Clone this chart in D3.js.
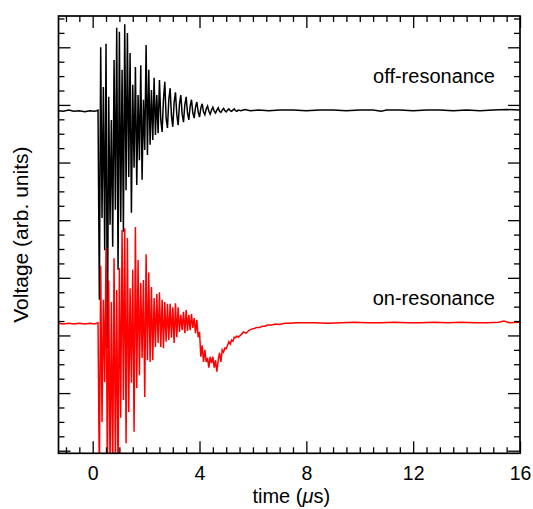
<!DOCTYPE html>
<html><head><meta charset="utf-8">
<script src="https://cdn.jsdelivr.net/npm/d3@7"></script>
<style>body{margin:0;background:#fff}svg{display:block}</style>
</head><body><svg id="c" width="533" height="509"></svg>
<script>
// ---------------- DATA ----------------
const xTickMajor = [0, 4, 8, 12, 16];
const seriesNames = ["off-resonance", "on-resonance"];
const xLabel = "time (";
const yLabel = "Voltage (arb. units)";

// densely sampled ringing region (uniform sampling)
const ringStart = 0.20, ringStep = 0.05;

// off-resonance (black)
const offPreT = [-1.28, -1.1, -0.9, -0.7, -0.5, -0.3, -0.1, 0.05, 0.15];
const offPreV = [5.90, 5.89, 5.91, 5.89, 5.90, 5.88, 5.90, 5.89, 5.90];
const offRing = [
 5.91, 2.62, 7.00, 4.04, 6.31, 3.48, 7.06, 1.78, 6.14, 3.92,
 5.74, 3.54, 6.78, 4.18, 7.34, 3.14, 7.27, 3.97, 6.61, 3.80,
 7.40, 4.52, 7.25, 4.75, 6.90, 4.13, 6.35, 4.91, 6.66, 4.61,
 6.17, 5.04, 6.69, 4.70, 6.09, 5.22, 7.04, 5.13, 6.61, 5.31,
 6.26, 5.39, 6.47, 5.48, 6.17, 5.51, 6.43, 5.74, 5.53, 6.09,
 6.40, 5.77, 5.60, 6.09, 6.29, 5.81, 5.62, 6.05, 6.22, 5.83,
 5.65, 6.02, 6.17, 5.84, 5.70, 6.00, 6.14, 5.86, 5.74, 5.98,
 6.09, 5.86, 5.77, 5.96, 6.05, 5.88, 5.79, 5.95, 6.02, 5.88,
 5.83, 5.93, 5.98, 5.89, 5.84, 5.91, 5.96, 5.89, 5.86, 5.91,
 5.95, 5.89, 5.87, 5.91, 5.94, 5.90, 5.88, 5.91, 5.93, 5.90,
 5.89, 5.91, 5.93, 5.90, 5.89, 5.91
];
const offTailT = [5.55, 5.7, 5.9, 6.2, 6.6, 7.0, 7.5, 8.0, 8.5, 9.0, 9.5, 10.0, 10.5, 10.8, 11.0, 11.5, 12.0, 12.5, 13.0, 13.5, 14.0, 14.5, 15.0, 15.5, 16.0];
const offTailV = [5.90, 5.92, 5.90, 5.91, 5.90, 5.91, 5.91, 5.90, 5.91, 5.91, 5.90, 5.91, 5.91, 5.89, 5.91, 5.91, 5.90, 5.91, 5.91, 5.90, 5.91, 5.90, 5.91, 5.92, 5.91];

// on-resonance (red)
const onPreT = [-1.28, -1.1, -0.9, -0.7, -0.5, -0.3, -0.1, 0.05, 0.15];
const onPreV = [2.21, 2.20, 2.21, 2.20, 2.21, 2.20, 2.21, 2.20, 2.21];
const onRing = [
 2.22, -0.51, 3.21, 0.50, 2.62, 1.19, 3.52, -0.51, 2.95, -0.34,
 2.58, -0.42, 3.34, -0.25, 2.79, -0.51, 3.17, 0.57, 3.83, 0.88,
 3.86, 0.13, 3.69, 0.67, 2.82, 1.18, 3.14, 0.33, 3.88, 1.09,
 3.31, 1.31, 2.91, 1.61, 2.96, 0.93, 3.41, 1.57, 3.09, 1.54,
 2.84, 1.57, 2.65, 1.80, 2.72, 1.87, 2.75, 1.80, 2.62, 1.78,
 2.58, 1.89, 2.55, 1.92, 2.55, 1.96, 2.49, 1.87, 2.56, 1.97,
 2.49, 2.06, 2.36, 2.09, 2.41, 2.04, 2.44, 2.08, 2.36, 2.09,
 2.37, 2.13, 2.30, 2.04, 2.27, 1.97, 2.06, 1.63, 1.83, 1.54,
 1.75, 1.54, 1.61, 1.44, 1.63, 1.52, 1.63, 1.44, 1.57, 1.37,
 1.57, 1.70, 1.54, 1.75, 1.71, 1.78, 1.77, 1.83, 1.89, 1.85,
 1.92, 1.90, 1.97, 1.96, 1.99, 1.97
];
const onTailT = [5.55, 5.65, 5.75, 5.85, 5.95, 6.05, 6.15, 6.25, 6.35, 6.45, 6.55, 6.7, 6.85, 7.0, 7.2, 7.4, 7.6, 7.9, 8.3, 8.8, 9.3, 9.8, 10.3, 10.8, 11.3, 11.8, 12.3, 12.8, 13.3, 13.8, 14.3, 14.8, 15.2, 15.4, 15.6, 16.0];
const onTailV = [2.01, 2.06, 2.04, 2.09, 2.11, 2.12, 2.14, 2.14, 2.16, 2.16, 2.18, 2.18, 2.20, 2.19, 2.21, 2.21, 2.22, 2.22, 2.22, 2.21, 2.22, 2.23, 2.22, 2.22, 2.23, 2.22, 2.22, 2.23, 2.22, 2.23, 2.22, 2.22, 2.23, 2.25, 2.22, 2.23];

// ---------------- BUILD ----------------
function build(preT, preV, ring, tailT, tailV) {
  const pts = [];
  preT.forEach((t, i) => pts.push([t, preV[i]]));
  ring.forEach((v, i) => pts.push([ringStart + i * ringStep, v]));
  tailT.forEach((t, i) => pts.push([t, tailV[i]]));
  return pts;
}
const series = [
  {name: seriesNames[0], color: "#000", pts: build(offPreT, offPreV, offRing, offTailT, offTailV), labelY: 6.38},
  {name: seriesNames[1], color: "#ff0000", pts: build(onPreT, onPreV, onRing, onTailT, onTailV), labelY: 2.53}
];

const L = 58.5, R = 520, T = 16, B = 453.3;
const svg = d3.select("#c");
const font = "'Liberation Sans', Arial, Helvetica, sans-serif";

const x = d3.scaleLinear().domain([-1.28, 16]).range([L, R]);
const y = d3.scaleLinear().domain([-0.045, 7.543]).range([B, T]);

svg.append("defs").append("clipPath").attr("id", "clip")
  .append("rect").attr("x", L).attr("y", T).attr("width", R - L).attr("height", B - T);

const line = d3.line().x(d => x(d[0])).y(d => y(d[1]));
const g = svg.append("g").attr("clip-path", "url(#clip)");
series.forEach(s => {
  g.append("path").datum(s.pts).attr("d", line)
    .attr("fill", "none").attr("stroke", s.color).attr("stroke-width", 1.5)
    .attr("stroke-linejoin", "miter");
});

// axes
const xMinor = d3.range(-1, 16.01, 0.5).filter(v => !xTickMajor.includes(v));
const yMajor = d3.range(0, 7.6, 1);
const yMinor = d3.range(0, 7.6, 0.25).filter(v => Math.abs(v - Math.round(v)) > 1e-6);

function styleAxis(sel) {
  sel.select(".domain").remove();
  sel.selectAll(".tick line").attr("stroke", "#000").attr("stroke-width", 1.3);
  sel.selectAll("text").attr("font-family", font).attr("font-size", 19.5).attr("fill", "#000");
}
// bottom
const bx = svg.append("g").attr("transform", `translate(0,${B})`)
  .call(d3.axisBottom(x).tickValues(xTickMajor).tickSizeInner(-12).tickSizeOuter(0).tickFormat(d3.format("d")))
  .call(styleAxis);
bx.selectAll("text").attr("y", 27).attr("dy", null);
svg.append("g").attr("transform", `translate(0,${B})`)
  .call(d3.axisBottom(x).tickValues(xMinor).tickSizeInner(-6).tickSizeOuter(0).tickFormat(""))
  .call(styleAxis);
// top
svg.append("g").attr("transform", `translate(0,${T})`)
  .call(d3.axisTop(x).tickValues(xTickMajor).tickSizeInner(-12).tickSizeOuter(0).tickFormat(""))
  .call(styleAxis);
svg.append("g").attr("transform", `translate(0,${T})`)
  .call(d3.axisTop(x).tickValues(xMinor).tickSizeInner(-6).tickSizeOuter(0).tickFormat(""))
  .call(styleAxis);
// left
svg.append("g").attr("transform", `translate(${L},0)`)
  .call(d3.axisLeft(y).tickValues(yMajor).tickSizeInner(-12).tickSizeOuter(0).tickFormat(""))
  .call(styleAxis);
svg.append("g").attr("transform", `translate(${L},0)`)
  .call(d3.axisLeft(y).tickValues(yMinor).tickSizeInner(-6).tickSizeOuter(0).tickFormat(""))
  .call(styleAxis);
// right
svg.append("g").attr("transform", `translate(${R},0)`)
  .call(d3.axisRight(y).tickValues(yMajor).tickSizeInner(-12).tickSizeOuter(0).tickFormat(""))
  .call(styleAxis);
svg.append("g").attr("transform", `translate(${R},0)`)
  .call(d3.axisRight(y).tickValues(yMinor).tickSizeInner(-6).tickSizeOuter(0).tickFormat(""))
  .call(styleAxis);

// frame
svg.append("rect").attr("x", L).attr("y", T).attr("width", R - L).attr("height", B - T)
  .attr("fill", "none").attr("stroke", "#000").attr("stroke-width", 1.7);

// series labels
series.forEach(s => {
  svg.append("text").attr("x", 495).attr("y", y(s.labelY))
    .attr("text-anchor", "end").attr("font-family", font).attr("font-size", 20)
    .attr("fill", "#000").text(s.name);
});

// axis titles
const xt = svg.append("text").attr("x", (L + R) / 2 + 2).attr("y", 503)
  .attr("text-anchor", "middle").attr("font-family", font).attr("font-size", 20).attr("fill", "#000");
xt.append("tspan").text(xLabel);
xt.append("tspan").attr("font-style", "italic").text("\u03bc");
xt.append("tspan").text("s)");

svg.append("text").attr("transform", `translate(28,${(T + B) / 2}) rotate(-90)`)
  .attr("text-anchor", "middle").attr("font-family", font).attr("font-size", 21).attr("fill", "#000")
  .text(yLabel);
</script>
</body></html>
